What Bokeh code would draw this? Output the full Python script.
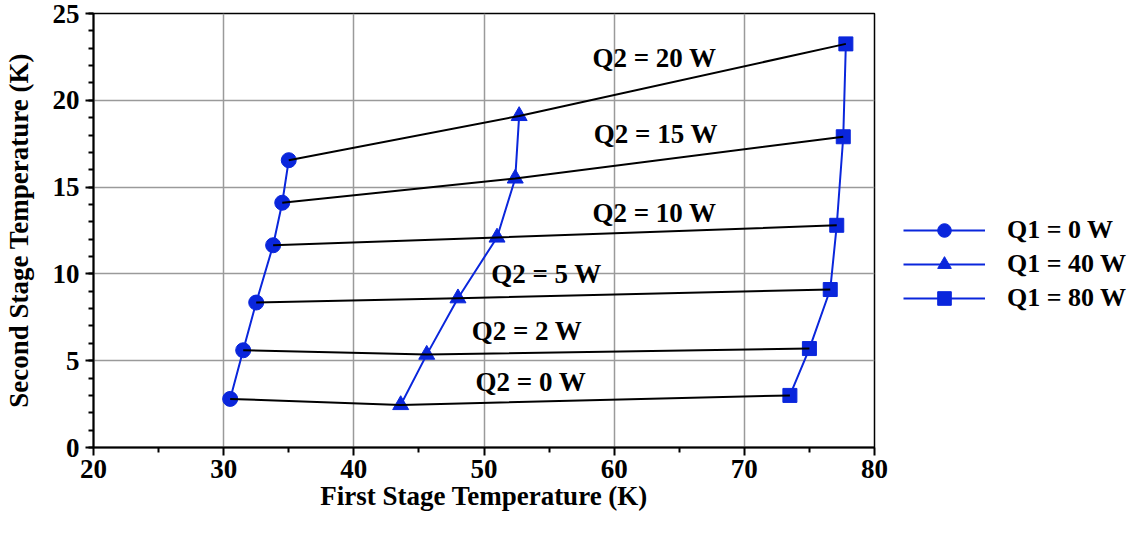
from bokeh.plotting import figure
from bokeh.models import Range1d, Legend, LegendItem, Label, FixedTicker
from bokeh.embed import file_html
from bokeh.resources import INLINE

q1_labels = ["Q1 = 0 W", "Q1 = 40 W", "Q1 = 80 W"]
q2_labels = ["Q2 = 0 W", "Q2 = 2 W", "Q2 = 5 W", "Q2 = 10 W", "Q2 = 15 W", "Q2 = 20 W"]

# points ordered Q2 = 0, 2, 5, 10, 15, 20 W
t1_q1_0 = [30.5, 31.5, 32.5, 33.8, 34.5, 35.0]
t2_q1_0 = [2.8, 5.6, 8.35, 11.65, 14.1, 16.55]
t1_q1_40 = [43.6, 45.6, 48.0, 51.0, 52.4, 52.7]
t2_q1_40 = [2.45, 5.35, 8.6, 12.1, 15.5, 19.1]
t1_q1_80 = [73.5, 75.0, 76.6, 77.1, 77.6, 77.8]
t2_q1_80 = [3.0, 5.7, 9.1, 12.8, 17.9, 23.25]

# label anchor positions for the Q2 curves
q2_label_x = [53.6, 53.3, 54.8, 63.1, 63.2, 63.1]
q2_label_y = [3.75, 6.7, 10.0, 13.5, 18.05, 22.45]

BLUE = "#0A26DC"
FONT = "Liberation Serif"

p = figure(width=1123, height=517, frame_width=781, frame_height=434,
           output_backend="svg", toolbar_location=None,
           x_range=Range1d(20, 80), y_range=Range1d(0, 25),
           min_border_left=92, min_border_right=0, min_border_top=13, min_border_bottom=70)
p.background_fill_color = "white"
p.outline_line_color = "black"
p.outline_line_width = 1.5

p.xaxis.ticker = FixedTicker(ticks=[20, 30, 40, 50, 60, 70, 80], minor_ticks=[25, 35, 45, 55, 65, 75])
p.yaxis.ticker = FixedTicker(ticks=[0, 5, 10, 15, 20, 25], minor_ticks=list(range(0, 26)))
for ax in (p.xaxis, p.yaxis):
    ax.axis_line_color = "black"
    ax.axis_line_width = 2
    ax.major_tick_line_color = "black"
    ax.major_tick_line_width = 2
    ax.major_tick_out = 8
    ax.major_tick_in = 0
    ax.minor_tick_line_color = "black"
    ax.minor_tick_line_width = 2
    ax.minor_tick_out = 5
    ax.minor_tick_in = 0
    ax.major_label_text_font = FONT
    ax.major_label_text_font_style = "bold"
    ax.major_label_text_font_size = "27px"
    ax.major_label_text_color = "black"
    ax.axis_label_text_font = FONT
    ax.axis_label_text_font_style = "bold"
    ax.axis_label_text_font_size = "27px"
    ax.axis_label_text_color = "black"
p.xaxis.axis_label = "First Stage Temperature (K)"
p.yaxis.axis_label = "Second Stage Temperature (K)"
p.xaxis.major_label_standoff = 4
p.yaxis.major_label_standoff = 6
p.xaxis.axis_label_standoff = 0
p.yaxis.axis_label_standoff = 16

p.xgrid.ticker = FixedTicker(ticks=[30, 40, 50, 60, 70])
p.ygrid.ticker = FixedTicker(ticks=[5, 10, 15, 20])
p.grid.grid_line_color = "#9A9A9A"
p.grid.grid_line_width = 1.5

series = [
    (t1_q1_0, t2_q1_0, "circle", 15),
    (t1_q1_40, t2_q1_40, "triangle", 16),
    (t1_q1_80, t2_q1_80, "square", 14),
]
items = []
for (xs, ys, marker, size), lab in zip(series, q1_labels):
    r1 = p.line(xs, ys, line_color=BLUE, line_width=2)
    r2 = p.scatter(xs, ys, marker=marker, size=size, fill_color=BLUE, line_color=BLUE)
    items.append(LegendItem(label=lab, renderers=[r1, r2]))

# constant-Q2 lines (black), drawn over the markers
for i in range(len(q2_labels)):
    p.line([t1_q1_0[i], t1_q1_40[i], t1_q1_80[i]],
           [t2_q1_0[i], t2_q1_40[i], t2_q1_80[i]],
           line_color="black", line_width=2)

for lab, lx, ly in zip(q2_labels, q2_label_x, q2_label_y):
    p.add_layout(Label(x=lx, y=ly, text=lab, text_align="center", text_baseline="middle",
                       text_font=FONT, text_font_style="bold", text_font_size="27px",
                       text_color="black"))

legend = Legend(items=items, location=(29, 132))
legend.border_line_color = None
legend.background_fill_alpha = 0
legend.padding = 0
legend.margin = 0
legend.glyph_width = 82
legend.glyph_height = 34
legend.label_height = 34
legend.spacing = 0
legend.label_standoff = 22
legend.label_text_font = FONT
legend.label_text_font_style = "bold"
legend.label_text_font_size = "26px"
legend.label_text_color = "black"
p.add_layout(legend, "right")

open("out.html", "w").write(file_html(p, INLINE))
